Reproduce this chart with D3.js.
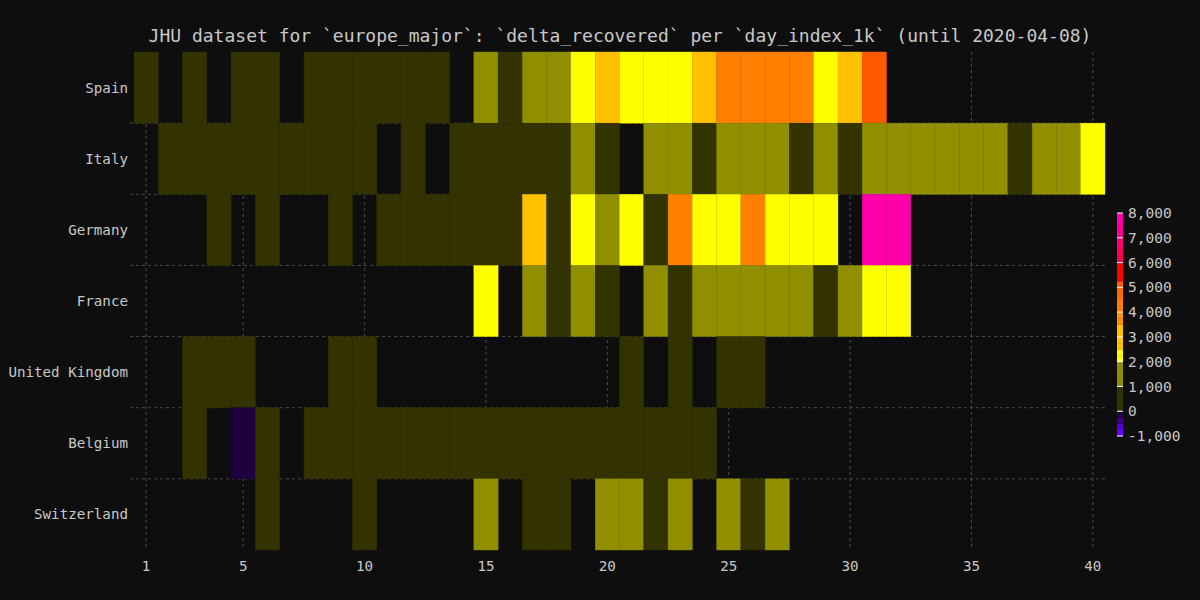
<!DOCTYPE html>
<html>
<head>
  <title>delta_recovered heatmap</title>
  <script src="https://d3js.org/d3.v7.min.js"></script>
  <style>
    body { margin: 0; background: #0e0e0e; }
    text { font-family: "DejaVu Sans Mono", "Liberation Mono", monospace; fill: #c8c8c8; }
  </style>
</head>
<body>
<script type="text/javascript">
  var w = 1200;
  var h = 600;

  // rows, top to bottom
  var countries = ["Spain", "Italy", "Germany", "France", "United Kingdom", "Belgium", "Switzerland"];
  // day_index_1k 1..40 (null = no cell)
  var spain = [32, null, 135, null, 10, 346, null, 530, 150, 516, 235, 643, 620, null, 1480, 400, 1850, 1900, 2200, 3000,
    2400, 2300, 2450, 3100, 4200, 4300, 4100, 4250, 2300, 3300, 5100, null, null, null, null, null, null, null, null, null];
  var italy = [null, 100, 200, 40, 160, 260, 100, 400, 210, 600, null, 530, null, 400, 800, 950, 700, 600, 1100, 900,
    null, 1200, 1600, 950, 1500, 1200, 1400, 650, 1400, 750, 1450, 1300, 1100, 1500, 1200, 1300, 800, 1600, 1400, 2100];
  var germany = [null, null, null, 400, null, 300, null, null, 500, null, 200, 700, 600, 300, 900, 700, 3000, 600, 2300, 1500,
    2400, 700, 4200, 2200, 2400, 4300, 2100, 2300, 2400, null, 7800, 7700, null, null, null, null, null, null, null, null];
  var france = [null, null, null, null, null, null, null, null, null, null, null, null, null, null, 2200, null, 1500, 600, 1200, 700,
    null, 1300, 500, 1200, 1400, 1500, 1600, 1300, 800, 1500, 2100, 2300, null, null, null, null, null, null, null, null];
  var uk = [null, null, 10, 50, 20, null, null, null, 50, 40, null, null, null, null, null, null, null, null, null, null,
    100, null, 200, null, 150, 180, null, null, null, null, null, null, null, null, null, null, null, null, null, null];
  var belgium = [null, null, 10, null, -60, 20, null, 30, 40, 60, 80, 100, 120, 150, 200, 250, 300, 350, 400, 450,
    500, 550, 600, 650, null, null, null, null, null, null, null, null, null, null, null, null, null, null, null, null];
  var switzerland = [null, null, null, null, null, 2, null, null, null, 4, null, null, null, null, 1500, null, 300, 600, null, 1300,
    1200, 500, 1100, null, 1400, 700, 1300, null, null, null, null, null, null, null, null, null, null, null, null, null];
  var series = [spain, italy, germany, france, uk, belgium, switzerland];

  var xTicks = [1, 5, 10, 15, 20, 25, 30, 35, 40];
  var legendTicks = [-1000, 0, 1000, 2000, 3000, 4000, 5000, 6000, 7000, 8000];

  var thresholds = [-750, -500, -250, 0, 1000, 2000, 2500, 3500, 4000, 4500, 5000, 5250, 6000, 6500, 7000, 7500];
  var colors = ["#6a00ff", "#5200cc", "#3a0090", "#1e0040", "#333300", "#8f8f00", "#ffff00", "#ffc000", "#ff9000",
    "#ff8000", "#ff6a00", "#ff5a00", "#ff0000", "#ff0050", "#ff0070", "#ff0090", "#ff00aa"];

  var cells = [];
  series.forEach(function(s, r) {
    s.forEach(function(v, i) {
      if (v !== null) cells.push({country: countries[r], day: i + 1, value: v});
    });
  });

  var svg = d3.select("body").append("svg")
    .attr("width", w)
    .attr("height", h);

  svg.append("rect").attr("width", w).attr("height", h).attr("fill", "#0e0e0e");

  var xScale = d3.scaleLinear().domain([0.5, 40.5]).range([134, 1105]);
  var yScale = d3.scaleBand().domain(countries).range([52, 550]);
  var colorScale = d3.scaleThreshold().domain(thresholds).range(colors);

  // grid
  svg.selectAll("line.vgrid")
    .data(xTicks)
    .enter()
    .append("line")
    .attr("x1", function(d){ return xScale(d); })
    .attr("x2", function(d){ return xScale(d); })
    .attr("y1", 52)
    .attr("y2", 550)
    .attr("stroke", "#4a4a4a")
    .attr("stroke-dasharray", "3,3");

  svg.selectAll("line.hgrid")
    .data(countries.slice(1))
    .enter()
    .append("line")
    .attr("x1", 130)
    .attr("x2", 1105)
    .attr("y1", function(d){ return yScale(d); })
    .attr("y2", function(d){ return yScale(d); })
    .attr("stroke", "#4a4a4a")
    .attr("stroke-dasharray", "3,3");

  var cw = xScale(1.5) - xScale(0.5);

  svg.selectAll("rect.cell")
    .data(cells)
    .enter()
    .append("rect")
    .attr("x", function(d){ return xScale(d.day - 0.5); })
    .attr("y", function(d){ return yScale(d.country); })
    .attr("width", cw)
    .attr("height", yScale.bandwidth())
    .attr("fill", function(d){ return colorScale(d.value); })
    .attr("stroke", function(d){ return d3.color(colorScale(d.value)).darker(0.2); })
    .attr("stroke-width", 0.4);

  // title
  svg.append("text")
    .attr("x", 620)
    .attr("y", 42)
    .attr("text-anchor", "middle")
    .attr("font-size", "18px")
    .text("JHU dataset for `europe_major`: `delta_recovered` per `day_index_1k` (until 2020-04-08)");

  // y labels
  svg.selectAll("text.ylab")
    .data(countries)
    .enter()
    .append("text")
    .attr("x", 128)
    .attr("y", function(d){ return yScale(d) + yScale.bandwidth() / 2; })
    .attr("dy", "0.35em")
    .attr("text-anchor", "end")
    .attr("font-size", "14.2px")
    .text(function(d){ return d; });

  // x labels
  svg.selectAll("text.xlab")
    .data(xTicks)
    .enter()
    .append("text")
    .attr("x", function(d){ return xScale(d); })
    .attr("y", 566)
    .attr("dy", "0.35em")
    .attr("text-anchor", "middle")
    .attr("font-size", "14.2px")
    .text(function(d){ return d; });

  // colour bar
  var lScale = d3.scaleLinear().domain([-1000, 8000]).range([436, 213]);
  var steps = d3.range(-1000, 8000, 250);
  svg.selectAll("rect.leg")
    .data(steps)
    .enter()
    .append("rect")
    .attr("x", 1117)
    .attr("y", function(d){ return lScale(d + 250); })
    .attr("width", 6)
    .attr("height", lScale(0) - lScale(250) + 0.3)
    .attr("fill", function(d){ return colorScale(d + 125); });

  svg.selectAll("line.legtick")
    .data(legendTicks)
    .enter()
    .append("line")
    .attr("x1", 1117)
    .attr("x2", 1123)
    .attr("y1", function(d){ return lScale(d); })
    .attr("y2", function(d){ return lScale(d); })
    .attr("stroke", "#ffffff")
    .attr("stroke-width", 1);

  svg.selectAll("text.leglab")
    .data(legendTicks)
    .enter()
    .append("text")
    .attr("x", 1128)
    .attr("y", function(d){ return lScale(d); })
    .attr("dy", "0.35em")
    .attr("font-size", "14.5px")
    .text(function(d){ return d3.format(",")(d).replace("−", "-"); });
</script>
</body>
</html>
